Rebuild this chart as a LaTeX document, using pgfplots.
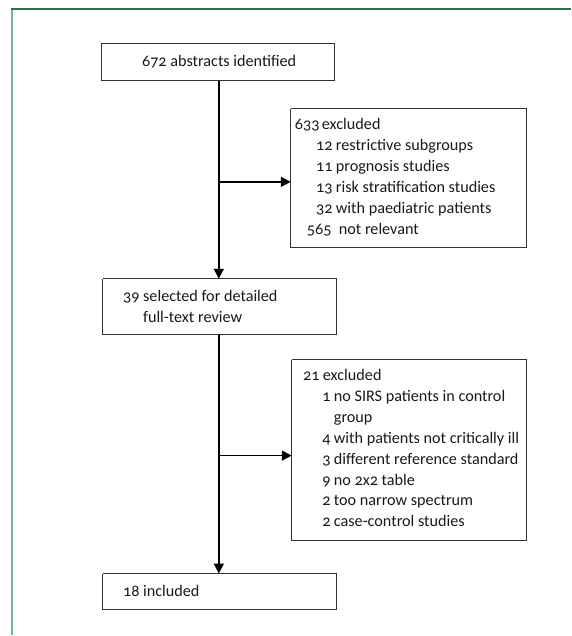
\documentclass[border=0pt]{standalone}
\usepackage{fontspec}
\setmainfont[Numbers=OldStyle]{Carlito}
\usepackage{pgfplots}
\pgfplotsset{compat=1.18}
\usetikzlibrary{arrows.meta}
\definecolor{gtop}{HTML}{2C6E4C}
\definecolor{gleft}{HTML}{72B696}
\definecolor{boxc}{HTML}{333333}
\begin{document}
\begin{tikzpicture}[txt/.style={inner sep=0pt, font=\fontsize{16.2}{20}\selectfont, text=black!90}]
\begin{axis}[
  width=571pt, height=636pt, scale only axis,
  xmin=0, xmax=571, ymin=0, ymax=636, y dir=reverse,
  hide axis, clip=false,
]
% invisible frame for the bounding box
\addplot[draw=none] coordinates {(0,0) (571,636)};
% green frame lines
\addplot[gleft, line width=1.1pt] coordinates {(12,9) (12,636)};
\addplot[gtop, line width=1.6pt] coordinates {(11.5,9) (571,9)};
% boxes
\addplot[boxc, line width=0.9pt, line join=miter] coordinates {(102,43) (335,43) (335,81) (102,81) (102,43)};
\addplot[boxc, line width=0.9pt, line join=miter] coordinates {(291,109) (527,109) (527,248) (291,248) (291,109)};
\addplot[boxc, line width=0.9pt, line join=miter] coordinates {(103,279) (337,279) (337,335) (103,335) (103,279)};
\addplot[boxc, line width=0.9pt, line join=miter] coordinates {(292,360) (527,360) (527,541) (292,541) (292,360)};
\addplot[boxc, line width=0.9pt, line join=miter] coordinates {(103,574) (337,574) (337,610) (103,610) (103,574)};
% arrows
\addplot[black, line width=1.6pt, -{Triangle[length=10pt,width=10pt]}] coordinates {(219,81) (219,279)};
\addplot[black, line width=1.6pt, -{Triangle[length=10pt,width=10pt]}] coordinates {(219,335) (219,574)};
\addplot[black, line width=1.6pt, -{Triangle[length=10pt,width=10pt]}] coordinates {(219,182) (291,182)};
\addplot[black, line width=1.6pt, -{Triangle[length=10pt,width=10pt]}] coordinates {(219,456) (292,456)};
% texts box 1
\node[txt, anchor=base west] at (axis cs:142,67) {672 abstracts identified};
% box 2
\node[txt, anchor=base east] at (axis cs:320,130) {633};
\node[txt, anchor=base west] at (axis cs:322,130) {excluded};
\node[txt, anchor=base east] at (axis cs:333,151) {12};
\node[txt, anchor=base west] at (axis cs:336,151) {restrictive subgroups};
\node[txt, anchor=base east] at (axis cs:333,172) {11};
\node[txt, anchor=base west] at (axis cs:336,172) {prognosis studies};
\node[txt, anchor=base east] at (axis cs:333,193) {13};
\node[txt, anchor=base west] at (axis cs:336,193) {risk stratification studies};
\node[txt, anchor=base east] at (axis cs:333,214) {32};
\node[txt, anchor=base west] at (axis cs:336,214) {with paediatric patients};
\node[txt, anchor=base east] at (axis cs:332,235) {565};
\node[txt, anchor=base west] at (axis cs:339,235) {not relevant};
% box 3
\node[txt, anchor=base west] at (axis cs:123,302) {39 selected for detailed};
\node[txt, anchor=base west] at (axis cs:143,323) {full-text review};
% box 4
\node[txt, anchor=base east] at (axis cs:320,381) {21};
\node[txt, anchor=base west] at (axis cs:323,381) {excluded};
\node[txt, anchor=base east] at (axis cs:331,402) {1};
\node[txt, anchor=base west] at (axis cs:334,402) {no SIRS patients in control};
\node[txt, anchor=base west] at (axis cs:334,423) {group};
\node[txt, anchor=base east] at (axis cs:331,444) {4};
\node[txt, anchor=base west] at (axis cs:334,444) {with patients not critically ill};
\node[txt, anchor=base east] at (axis cs:331,465) {3};
\node[txt, anchor=base west] at (axis cs:334,465) {different reference standard};
\node[txt, anchor=base east] at (axis cs:331,486) {9};
\node[txt, anchor=base west] at (axis cs:334,486) {no 2x2 table};
\node[txt, anchor=base east] at (axis cs:331,506) {2};
\node[txt, anchor=base west] at (axis cs:334,506) {too narrow spectrum};
\node[txt, anchor=base east] at (axis cs:331,527) {2};
\node[txt, anchor=base west] at (axis cs:334,527) {case-control studies};
% box 5
\node[txt, anchor=base west] at (axis cs:123,597) {18 included};
\end{axis}
\end{tikzpicture}
\end{document}
